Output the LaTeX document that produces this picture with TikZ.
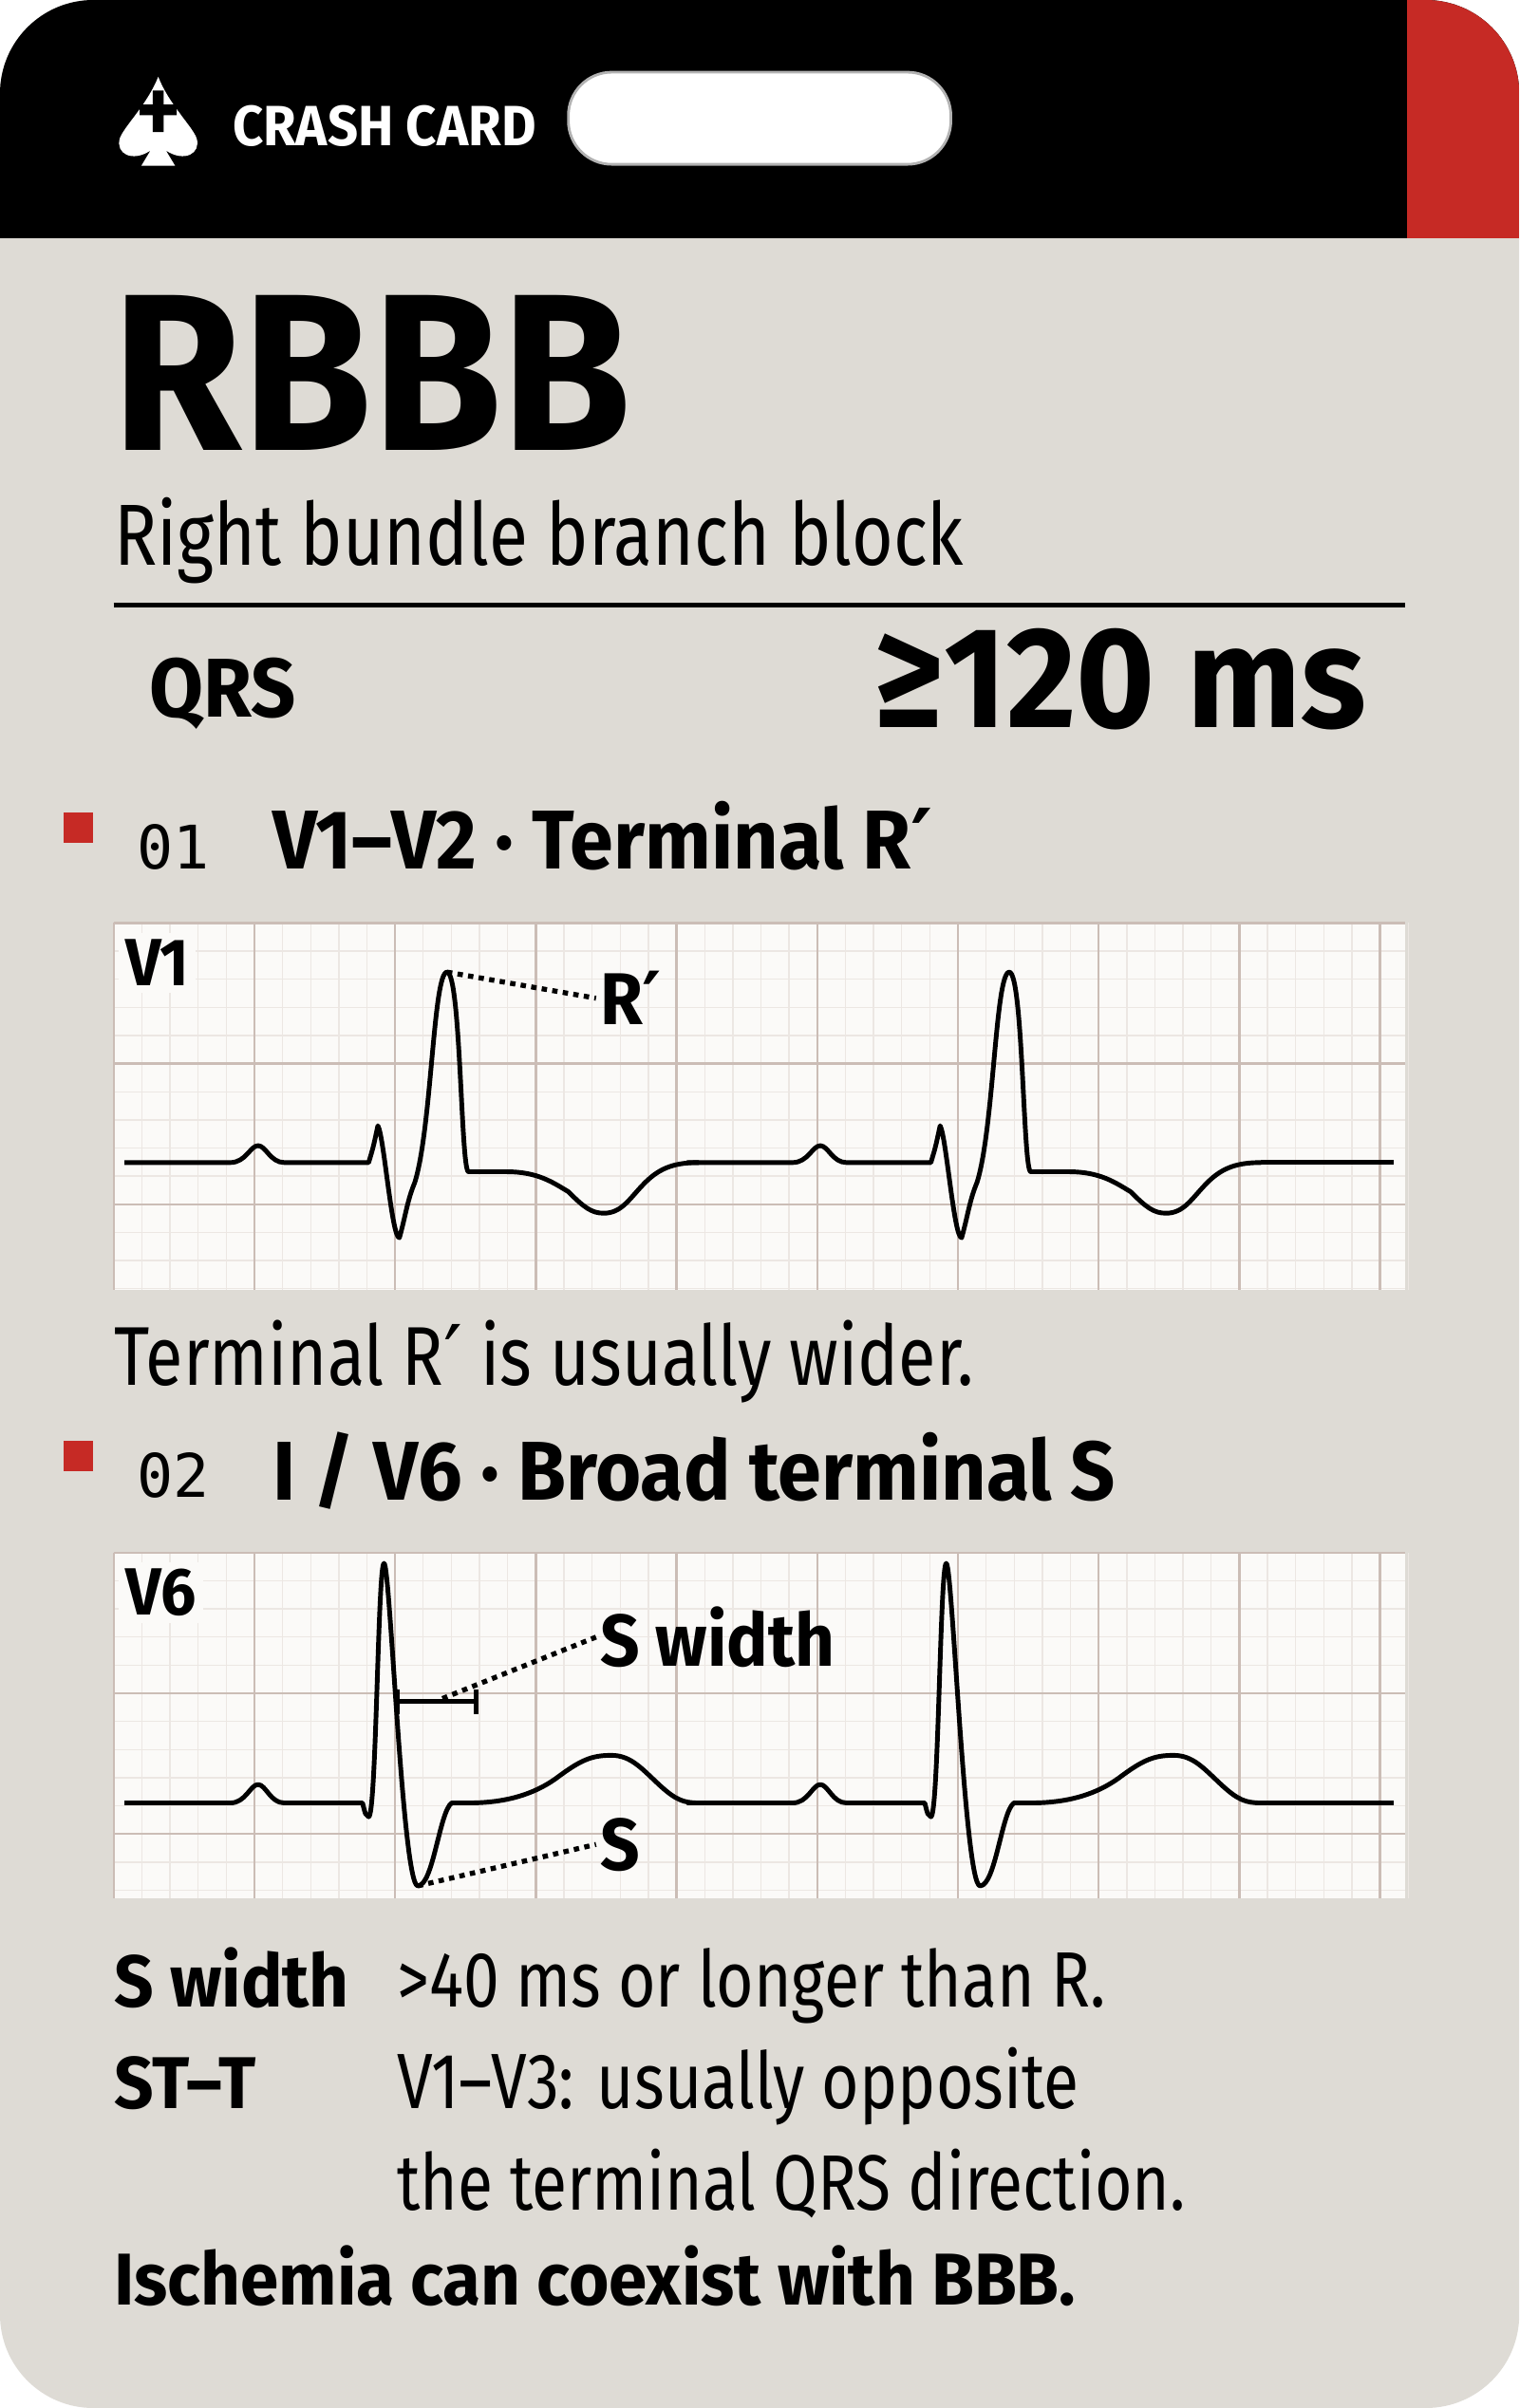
\documentclass[tikz,border=0pt]{standalone}
\usepackage{fontspec}
\setmainfont{Fira Sans}[FakeStretch=0.82, BoldFeatures={FakeStretch=0.94}]
\newfontfamily\monof{DejaVu Sans Mono}
\newfontfamily\symf{DejaVu Sans}
\newcommand{\rpr}{{\symf ′}}
\usetikzlibrary{positioning}
\definecolor{cardbg}{HTML}{DEDBD5}
\definecolor{cardred}{HTML}{C62A25}
\definecolor{gridminor}{HTML}{ECE7E3}
\definecolor{gridmajor}{HTML}{CBBDB6}
\definecolor{paper}{HTML}{FBFAF8}
\tikzset{
  trace/.style={line width=1.4pt, line join=round, black},
  leader/.style={line width=1.5pt, dash pattern=on 1.6pt off 1.6pt, black},
  ann/.style={font=\bfseries\fontsize{22}{24}\selectfont, anchor=west, inner sep=1pt},
  body/.style={font=\fontsize{23.5}{25}\selectfont, anchor=base west, inner sep=0pt},
  bodyb/.style={font=\bfseries\fontsize{22}{24}\selectfont, anchor=base west, inner sep=0pt},
  head/.style={font=\bfseries\fontsize{25}{27}\selectfont, anchor=base west, inner sep=0pt},
  marker/.style={fill=cardred, minimum size=9pt, inner sep=0pt},
}
% one ECG grid panel: top y, bottom y
\newcommand{\ecgpanel}[2]{%
  \fill[paper] (74,#1) rectangle (915,#2);
  \foreach \i in {0,...,46} \draw[gridminor, line width=0.4pt] ({74+18.32*\i},#1) -- ({74+18.32*\i},#2);
  \pgfmathtruncatemacro{\ny}{(#2-#1)/18.32}
  \foreach \j in {0,...,\ny} \draw[gridminor, line width=0.4pt] (74,{#1+18.32*\j}) -- (915,{#1+18.32*\j});
  \foreach \i in {0,...,9} \draw[gridmajor, line width=0.7pt] ({74+91.6*\i},#1) -- ({74+91.6*\i},#2);
  \foreach \j in {0,1,2} \draw[gridmajor, line width=0.7pt] (74,{#1+91.6*\j}) -- (915,{#1+91.6*\j});
}
\begin{document}
\begin{tikzpicture}[x=0.01618cm, y=-0.01618cm]
\useasboundingbox (0,0) rectangle (989,1568);

% card
\fill[cardbg, rounded corners=28pt] (0,0) rectangle (989,1568);
\begin{scope}
  \clip[rounded corners=28pt] (0,0) rectangle (989,1568);
  \fill[black] (0,0) rectangle (989,155);
  \fill[cardred] (916,0) rectangle (989,155);
\end{scope}

% header
\fill[white] (103,50) .. controls (110,68) and (125,82) .. (128,90)
  .. controls (131,100) and (120,106) .. (108,98) -- (114,108) -- (92,108) -- (98,98)
  .. controls (86,106) and (75,100) .. (78,90) .. controls (81,82) and (96,68) .. (103,50) -- cycle;
\fill[black] (99.5,59) rectangle (106.5,86) (91,68) rectangle (115,75);
\node[font=\bfseries\fontsize{17}{19}\selectfont, text=white, anchor=west, inner sep=0pt] (title) at (151,82) {CRASH CARD};
\draw[gray!60, fill=white, line width=0.8pt, rounded corners=13pt] (370,47) rectangle (619,107);

% name block
\node[font=\bfseries\fontsize{67}{70}\selectfont, anchor=base west, inner sep=0pt] (abbr) at (73,293) {RBBB};
\node[font=\fontsize{26}{28}\selectfont, anchor=base west, inner sep=0pt] (full) at (74,368) {Right bundle branch block};
\draw[line width=1.4pt] (74,394) -- (915,394);
\node[font=\bfseries\fontsize{25}{27}\selectfont, anchor=base west, inner sep=0pt] (qrs) at (97,467) {QRS};
\node[font=\bfseries\fontsize{43}{45}\selectfont, anchor=base east, inner sep=0pt] (qrsval) at (890,474) {≥120 ms};

% section 01
\node[marker] (m1) at (51,539) {};
\node[font=\monof\fontsize{18}{20}\selectfont, anchor=base west, inner sep=0pt] (n1) at (89,566) {01};
\node[head] (h1) at (177,566) {V1–V2 · Terminal R\rpr};
\ecgpanel{601}{840}
\node[fill=paper, font=\bfseries\fontsize{20}{22}\selectfont, anchor=north west, inner sep=2pt] (v1) at (77,607) {V1};
\foreach \s in {0,366} {
  \draw[trace, shift={(\s,0)}] (81,757) -- (150,757) .. controls (160,757) and (163,746) .. (168,746)
    .. controls (173,746) and (176,757) .. (185,757) -- (240,757) .. controls (243,747) .. (246,733)
    .. controls (250,740) and (255,806) .. (260,806) .. controls (264,792) and (265,782) .. (270,770)
    .. controls (281,735) and (282,633) .. (291,633) .. controls (300,633) and (300,763) .. (305,763)
    -- (330,763) .. controls (350,763) and (360,770) .. (370,776) .. controls (380,786) and (385,790) .. (393,790)
    .. controls (405,790) and (410,780) .. (420,770) .. controls (430,760) and (440,757) .. (455,757);
}
\draw[trace] (821,757) -- (907,757);
\coordinate (rpeak) at (291,633);
\node[ann] (rlab) at (388,650) {R\rpr};
\draw[leader] (rpeak) -- (rlab.west);
\node[body, font=\fontsize{25}{27}\selectfont] (t1) at (74,902) {Terminal R\rpr{} is usually wider.};

% section 02
\node[marker] (m2) at (51,948) {};
\node[font=\monof\fontsize{18}{20}\selectfont, anchor=base west, inner sep=0pt] (n2) at (89,975) {02};
\node[head] (h2) at (177,977) {I / V6 · Broad terminal S};
\ecgpanel{1011}{1236}
\node[fill=paper, font=\bfseries\fontsize{20}{22}\selectfont, anchor=north west, inner sep=2pt] (v6) at (77,1017) {V6};
\foreach \s in {0,366} {
  \draw[trace, shift={(\s,0)}] (81,1174) -- (150,1174) .. controls (160,1174) and (163,1162) .. (168,1162)
    .. controls (173,1162) and (176,1174) .. (185,1174) -- (236,1174) .. controls (238,1182) .. (240,1183)
    .. controls (245,1183) and (246,1018) .. (250,1018) .. controls (254,1018) and (262,1228) .. (272,1228)
    .. controls (282,1228) and (286,1180) .. (294,1174) -- (305,1174)
    .. controls (330,1174) and (348,1168) .. (362,1158) .. controls (378,1146) and (385,1143) .. (398,1143)
    .. controls (411,1143) and (418,1152) .. (430,1163) .. controls (440,1172) and (445,1174) .. (455,1174);
}
\draw[trace] (821,1174) -- (907,1174);
\draw[line width=1.3pt] (259,1100) -- (259,1116) (259,1108) -- (310,1108) (310,1100) -- (310,1116);
\coordinate (swbar) at (288,1106);
\coordinate (strough) at (272,1228);
\node[ann] (swlab) at (388,1066) {S width};
\node[ann] (slab) at (388,1201) {S};
\draw[leader] (swbar) -- (swlab.west);
\draw[leader] (strough) -- (slab.west);

% notes
\node[bodyb] (k1) at (74,1307) {S width};
\node[body] (d1) at (258,1307) {>40 ms or longer than R.};
\node[bodyb] (k2) at (74,1373) {ST–T};
\node[body] (d2) at (258,1373) {V1–V3: usually opposite};
\node[body] (d3) at (258,1439) {the terminal QRS direction.};
\node[bodyb] (k3) at (74,1501) {Ischemia can coexist with BBB.};
\end{tikzpicture}
\end{document}
